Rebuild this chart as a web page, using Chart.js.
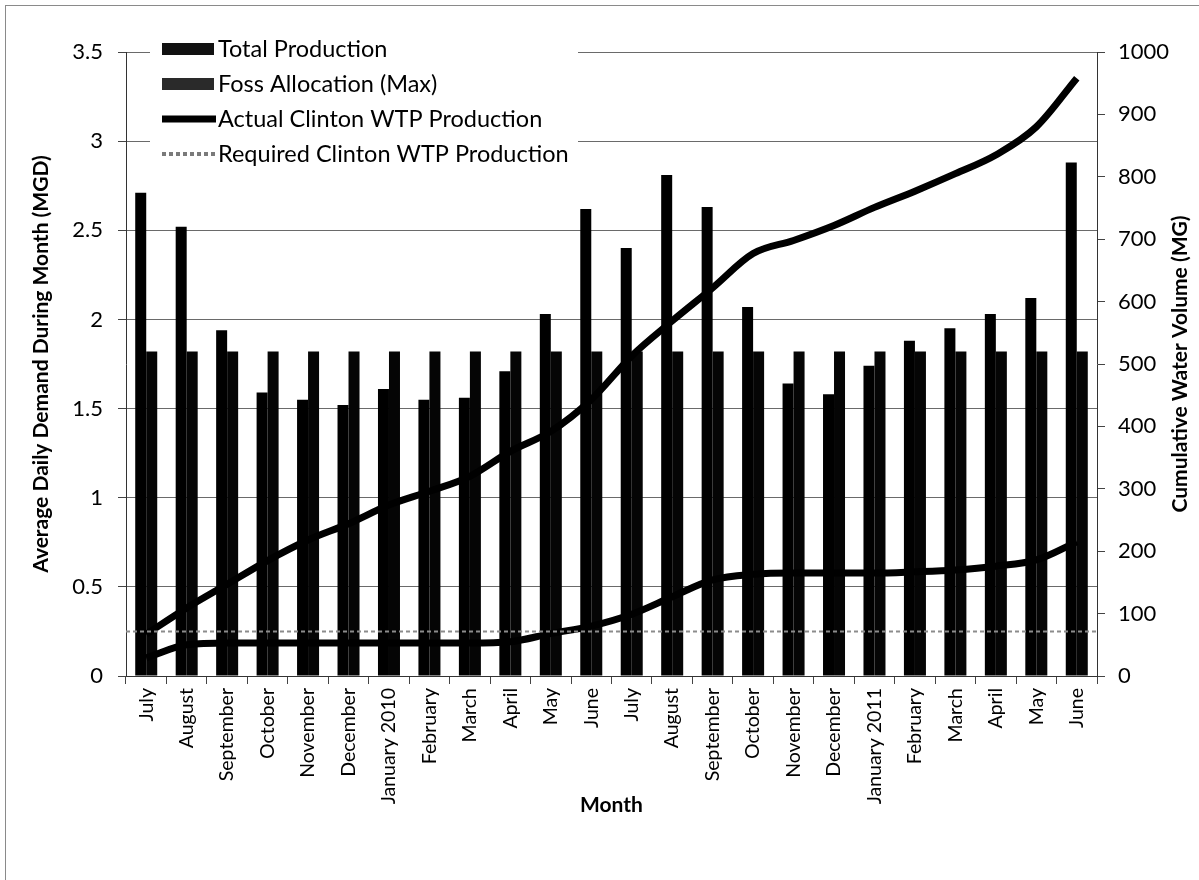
<!DOCTYPE html>
<html>
<head>
<meta charset="utf-8">
<title>Clinton WTP Production</title>
<script src="https://cdn.jsdelivr.net/npm/chart.js@4.4.1/dist/chart.umd.min.js"></script>
<style>
  html, body { margin: 0; padding: 0; background: #fff; }
  #wrap { position: relative; width: 1199px; height: 880px; overflow: hidden; }
  #chart { position: absolute; left: 0; top: 0; }
  #frame { position: absolute; left: 5px; top: 5px; right: 0; bottom: 0;
           border-left: 1px solid #8a8a8a; border-top: 1px solid #8a8a8a; pointer-events: none; }
</style>
</head>
<body>
<div id="wrap">
  <canvas id="chart" width="1199" height="880"></canvas>
  <div id="frame"></div>
</div>
<script>
// Months of the two reporting years (July 2009 - June 2011)
const months = ['July', 'August', 'September', 'October', 'November', 'December',
  'January 2010', 'February', 'March', 'April', 'May', 'June',
  'July', 'August', 'September', 'October', 'November', 'December',
  'January 2011', 'February', 'March', 'April', 'May', 'June'];

// Average daily demand (MGD)
const totalProduction = [2.71, 2.52, 1.94, 1.59, 1.55, 1.52, 1.61, 1.55, 1.56, 1.71, 2.03, 2.62,
  2.40, 2.81, 2.63, 2.07, 1.64, 1.58, 1.74, 1.88, 1.95, 2.03, 2.12, 2.88];
const fossAllocation = [1.82, 1.82, 1.82, 1.82, 1.82, 1.82, 1.82, 1.82, 1.82, 1.82, 1.82, 1.82,
  1.82, 1.82, 1.82, 1.82, 1.82, 1.82, 1.82, 1.82, 1.82, 1.82, 1.82, 1.82];

// Cumulative water volume (MG)
const cumulativeUpper = [67, 109, 147, 185, 218, 244, 274, 296, 320, 360, 392, 443,
  513, 569, 622, 677, 698, 722, 751, 777, 805, 835, 880, 958];
const cumulativeActual = [29, 50, 53, 53, 53, 53, 53, 53, 53, 55, 68, 80,
  99, 127, 154, 163, 165, 165, 165, 167, 170, 176, 186, 215];

// Required Clinton WTP production level (MGD), constant over the period
const requiredLevel = 0.25;

// Axis tick ranges
const demandTicks = { min: 0, max: 3.5, step: 0.5 };
const volumeTicks = { min: 0, max: 1000, step: 100 };

const FONT = 'Lato, "Open Sans", sans-serif';

// Legend entries: [label, kind, colour, line width, dash]
const legendItems = [
  ['Total Production', 'box', '#111', 0, []],
  ['Foss Allocation (Max)', 'box', '#2a2a2a', 0, []],
  ['Actual Clinton WTP Production', 'line', '#000', 7, []],
  ['Required Clinton WTP Production', 'line', '#7a7a7a', 4, [4, 3]]
];

// Required production level drawn across the full plot width on the demand axis
const requiredLine = {
  id: 'requiredLine',
  afterDatasetsDraw(chart) {
    const { ctx, chartArea: a, scales: { y } } = chart;
    const py = y.getPixelForValue(requiredLevel);
    ctx.save();
    ctx.strokeStyle = '#8c8c8c';
    ctx.lineWidth = 2;
    ctx.setLineDash([4, 3]);
    ctx.beginPath();
    ctx.moveTo(a.left, py);
    ctx.lineTo(a.right, py);
    ctx.stroke();
    ctx.restore();
  }
};

// Legend drawn inside the plot area on a white panel
const insideLegend = {
  id: 'insideLegend',
  afterDraw(chart) {
    const ctx = chart.ctx;
    ctx.save();
    ctx.fillStyle = '#fff';
    ctx.fillRect(150, 34, 428, 140);
    legendItems.forEach(([label, kind, color, width, dash], i) => {
      const y = 49 + i * 35;
      if (kind === 'box') {
        ctx.fillStyle = color;
        ctx.fillRect(162, y - 6, 52, 12);
      } else {
        ctx.strokeStyle = color;
        ctx.lineWidth = width;
        ctx.setLineDash(dash);
        ctx.beginPath();
        ctx.moveTo(162, y);
        ctx.lineTo(216, y);
        ctx.stroke();
        ctx.setLineDash([]);
      }
      ctx.fillStyle = '#000';
      ctx.font = '23.5px ' + FONT;
      ctx.textBaseline = 'middle';
      ctx.textAlign = 'left';
      ctx.fillText(label, 218, y);
    });
    ctx.restore();
  }
};

// Right-hand axis title, reading bottom to top
const rightTitle = {
  id: 'rightTitle',
  afterDraw(chart) {
    const ctx = chart.ctx;
    const a = chart.chartArea;
    ctx.save();
    ctx.translate(1180, (a.top + a.bottom) / 2);
    ctx.rotate(-Math.PI / 2);
    ctx.font = 'bold 21px ' + FONT;
    ctx.fillStyle = '#000';
    ctx.textAlign = 'center';
    ctx.textBaseline = 'middle';
    ctx.fillText('Cumulative Water Volume (MG)', 0, 0);
    ctx.restore();
  }
};

const plainNumber = v => String(v);

new Chart(document.getElementById('chart'), {
  data: {
    labels: months,
    datasets: [
      {
        type: 'line', label: 'Cumulative Demand', data: cumulativeUpper,
        yAxisID: 'y2', borderColor: '#000', borderWidth: 7, pointRadius: 0,
        cubicInterpolationMode: 'monotone', order: 0
      },
      {
        type: 'bar', label: 'Total Production', data: totalProduction,
        yAxisID: 'y', backgroundColor: '#000', order: 2,
        categoryPercentage: 0.544, barPercentage: 1.0
      },
      {
        type: 'bar', label: 'Foss Allocation (Max)', data: fossAllocation,
        yAxisID: 'y', backgroundColor: '#050505', order: 2,
        categoryPercentage: 0.544, barPercentage: 1.0
      },
      {
        type: 'line', label: 'Actual Clinton WTP Production', data: cumulativeActual,
        yAxisID: 'y2', borderColor: '#000', borderWidth: 7, pointRadius: 0,
        cubicInterpolationMode: 'monotone', order: 0
      }
    ]
  },
  options: {
    responsive: false,
    animation: false,
    devicePixelRatio: 1,
    layout: { padding: { top: 52, left: 10, right: 10, bottom: 10 } },
    plugins: { legend: { display: false }, tooltip: { enabled: false } },
    scales: {
      x: {
        type: 'category', position: 'bottom', offset: true,
        afterFit: s => { s.height = 194; },
        grid: { display: true, drawOnChartArea: false, drawTicks: true, tickLength: 8,
                offset: true, color: '#444', tickColor: '#444' },
        border: { display: true, color: '#333', width: 1 },
        ticks: { color: '#000', font: { family: FONT, size: 19.5 }, maxRotation: 90, minRotation: 90,
                 autoSkip: false, padding: 4 },
        title: { display: true, text: 'Month', color: '#000',
                 font: { family: FONT, size: 21, weight: 'bold' }, padding: { top: 0, bottom: 52 } }
      },
      y: {
        position: 'left', min: demandTicks.min, max: demandTicks.max,
        afterFit: s => { s.width = 116; },
        grid: { color: '#6a6a6a', lineWidth: 1, tickLength: 8, tickColor: '#444' },
        border: { display: true, color: '#333', width: 1 },
        ticks: { stepSize: demandTicks.step, color: '#000', font: { family: FONT, size: 22 },
                 padding: 15, callback: plainNumber },
        title: { display: true, text: 'Average Daily Demand During Month (MGD)', color: '#000',
                 font: { family: FONT, size: 21, weight: 'bold' }, padding: { top: 19, bottom: 0 } }
      },
      y2: {
        position: 'right', min: volumeTicks.min, max: volumeTicks.max,
        afterFit: s => { s.width = 92; },
        grid: { drawOnChartArea: false, tickLength: 8, color: '#444', tickColor: '#444' },
        border: { display: true, color: '#333', width: 1 },
        ticks: { stepSize: volumeTicks.step, color: '#000', font: { family: FONT, size: 22 },
                 padding: 13, callback: plainNumber }
      }
    }
  },
  plugins: [requiredLine, insideLegend, rightTitle]
});
</script>
</body>
</html>
